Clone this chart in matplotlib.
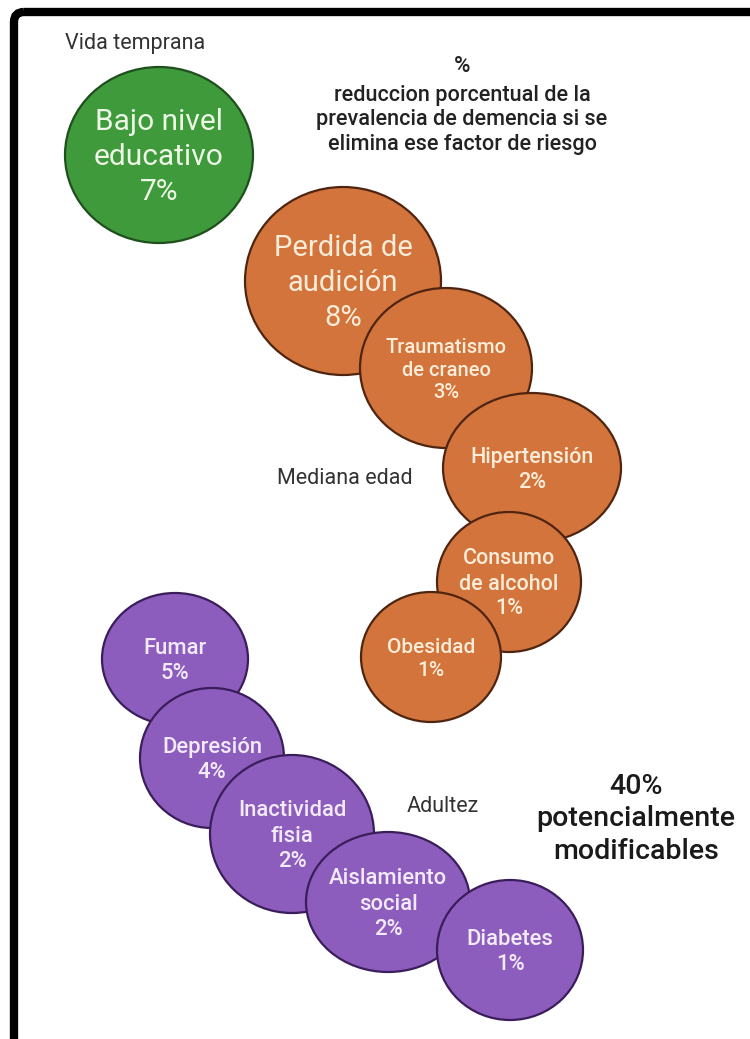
import matplotlib
matplotlib.use("Agg")
import matplotlib.pyplot as plt
from matplotlib.patches import Ellipse, FancyBboxPatch

# factores de riesgo y su porcentaje atribuible
etapa_temprana = ["Bajo nivel\neducativo"]
pct_temprana = [7]

etapa_media = ["Perdida de\naudición", "Traumatismo\nde craneo", "Hipertensión",
               "Consumo\nde alcohol", "Obesidad"]
pct_media = [8, 3, 2, 1, 1]

etapa_adulta = ["Fumar", "Depresión", "Inactividad\nfisia", "Aislamiento\nsocial", "Diabetes"]
pct_adulta = [5, 4, 2, 2, 1]

total_modificable = 40

# disposicion de las burbujas (centro x, centro y, radio x, radio y) en pixeles
pos_temprana = [(159, 155, 94, 88)]
pos_media = [(343, 281, 98, 94), (446, 368, 86, 80), (532, 468, 89, 75),
             (509, 582, 72, 70), (431, 657, 70, 65)]
pos_adulta = [(175, 659, 73, 66), (212, 758, 72, 70), (292, 834, 82, 79),
              (388, 902, 82, 70), (510, 950, 73, 70)]

W, H = 750, 1039
fig = plt.figure(figsize=(W / 100, H / 100), dpi=100)
ax = fig.add_axes([0, 0, 1, 1])
ax.set_xlim(0, W)
ax.set_ylim(H, 0)
ax.axis("off")

FONT = ["Roboto", "DejaVu Sans"]


def burbujas(nombres, pcts, posiciones, fill, edge, txt_color, sizes, weights, spacing):
    for nombre, pct, (cx, cy, rx, ry), fs, wt in zip(nombres, pcts, posiciones,
                                                     sizes, weights):
        ax.add_patch(Ellipse((cx, cy), 2 * rx, 2 * ry, facecolor=fill,
                             edgecolor=edge, lw=1.6, zorder=2))
        ax.text(cx, cy + 2, f"{nombre}\n{pct}%", ha="center", va="center",
                color=txt_color, fontsize=fs, family=FONT, fontweight=wt,
                linespacing=spacing if fs < 20 else 1.33, zorder=3)


burbujas(etapa_temprana, pct_temprana, pos_temprana, "#3e9a3b", "#1f4f1d",
         "#eef6e6", [21.5], ["normal"], 1.33)
burbujas(etapa_media, pct_media, pos_media, "#d2743b", "#4f2410", "#f9ecd8",
         [21, 14.5, 15.5, 15.5, 15], ["normal"] + ["medium"] * 4, 1.25)
burbujas(etapa_adulta, pct_adulta, pos_adulta, "#8c5dbd", "#3a1d5a", "#f3eaf9",
         [15.8] * 5, ["medium"] * 5, 1.3)

# rotulos de etapas
ax.text(65, 44, "Vida temprana", ha="left", va="center", fontsize=15.5,
        family=FONT, color="#333333")
ax.text(277, 479, "Mediana edad", ha="left", va="center", fontsize=15.5,
        family=FONT, color="#333333")
ax.text(407, 806, "Adultez", ha="left", va="center", fontsize=15.5,
        family=FONT, color="#333333")

# encabezado
ax.text(462, 66, "%", ha="center", va="center", fontsize=16,
        family=FONT, fontweight="medium", color="#222222")
ax.text(462, 120, "reduccion porcentual de la\nprevalencia de demencia si se\n"
        "elimina ese factor de riesgo", ha="center", va="center", fontsize=15.6,
        family=FONT, fontweight="medium", color="#222222", linespacing=1.2)

ax.text(636, 819, f"{total_modificable}%\npotencialmente\nmodificables",
        ha="center", va="center", fontsize=20.5, family=FONT,
        fontweight="medium", color="#1a1a1a", linespacing=1.25)

# marco negro con esquina redondeada
ax.add_patch(FancyBboxPatch((14, 12), 900, 1200,
                            boxstyle="round,pad=0,rounding_size=10",
                            fill=False, ec="black", lw=6, zorder=5))

fig.savefig("out.png", dpi=100, facecolor="white")
